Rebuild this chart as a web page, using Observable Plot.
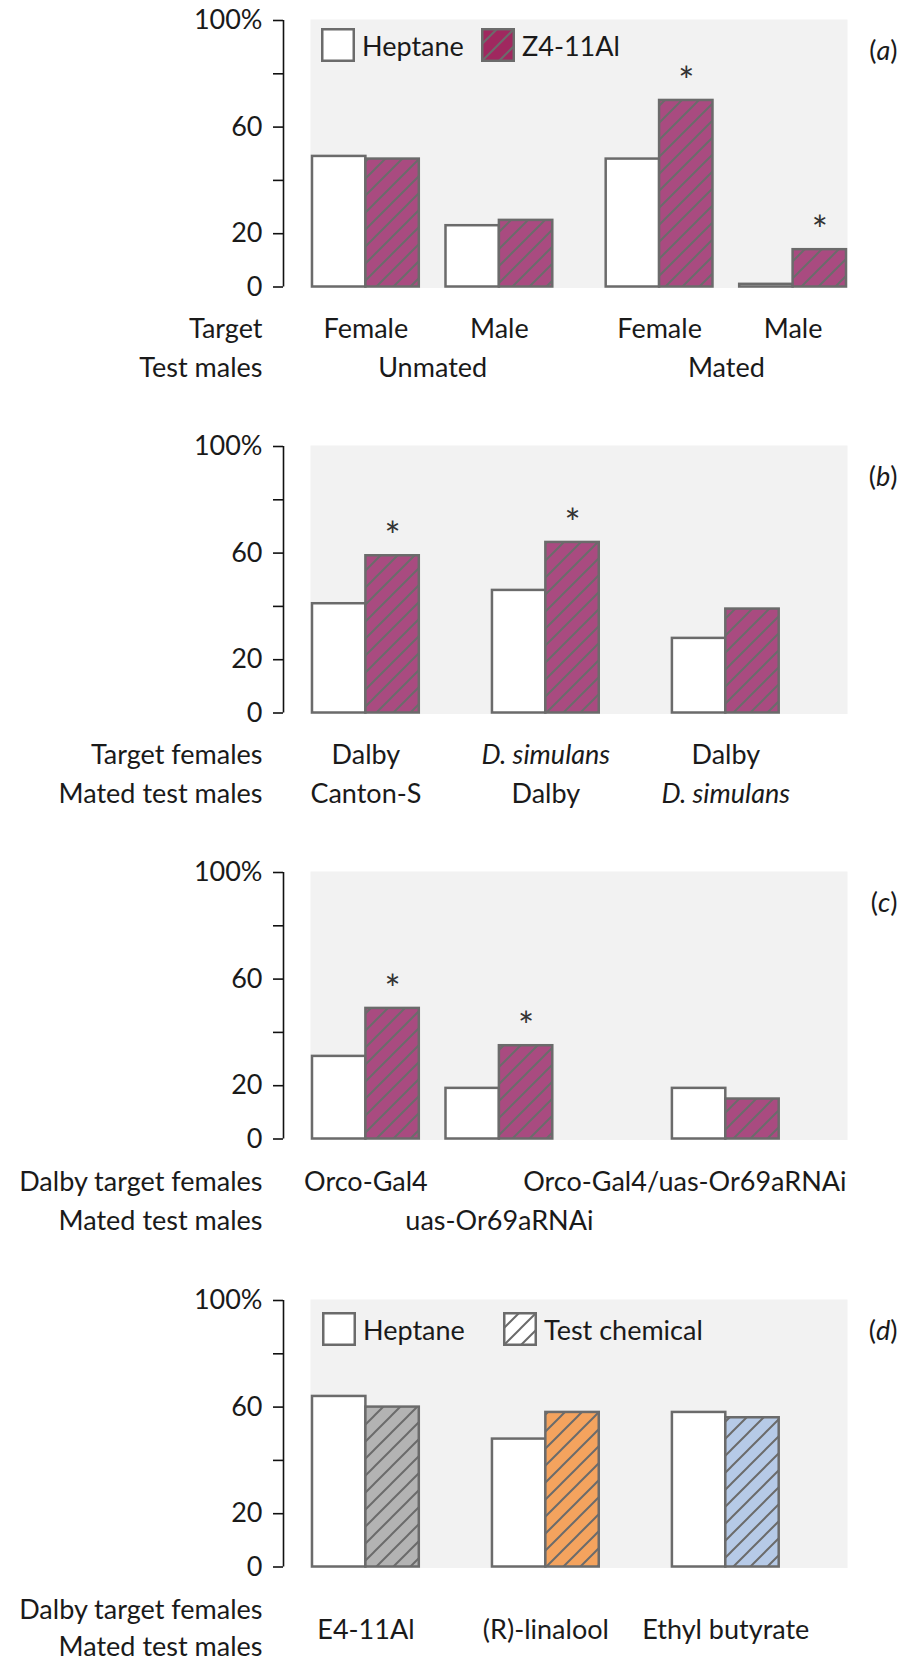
<!DOCTYPE html>
<html>
<head>
<meta charset="utf-8">
<script src="https://cdn.jsdelivr.net/npm/d3@7"></script>
<script src="https://cdn.jsdelivr.net/npm/@observablehq/plot@0.6"></script>
<style>
  body { margin: 0; background: #fff; font-family: Lato, sans-serif; }
  #root { position: relative; width: 899px; height: 1661px; overflow: hidden; }
  .panel { position: absolute; left: 0; width: 899px; }
  .panel svg { overflow: visible; }
  .legend-item { position: absolute; display: flex; align-items: center; font-family: Lato, sans-serif; font-size: 27px; color: #1a1a1a; white-space: nowrap; }
  .legend-item svg { margin-right: 7px; display: block; }
</style>
</head>
<body>
<svg width="0" height="0" style="position:absolute">
  <defs>
    <pattern id="hatch-z4" patternUnits="userSpaceOnUse" width="17" height="17">
      <rect width="17" height="17" fill="#a94b80"/>
      <path d="M0,17L17,0M-4,4L4,-4M13,21L21,13" stroke="#6b6b6b" stroke-width="2"/>
    </pattern>
    <pattern id="hatch-z4-key" patternUnits="userSpaceOnUse" width="17" height="17">
      <rect width="17" height="17" fill="#a0285f"/>
      <path d="M0,17L17,0M-4,4L4,-4M13,21L21,13" stroke="#6b6b6b" stroke-width="2"/>
    </pattern>
    <pattern id="hatch-gray" patternUnits="userSpaceOnUse" width="17" height="17">
      <rect width="17" height="17" fill="#b3b3b3"/>
      <path d="M0,17L17,0M-4,4L4,-4M13,21L21,13" stroke="#6b6b6b" stroke-width="2"/>
    </pattern>
    <pattern id="hatch-orange" patternUnits="userSpaceOnUse" width="17" height="17">
      <rect width="17" height="17" fill="#f4a35e"/>
      <path d="M0,17L17,0M-4,4L4,-4M13,21L21,13" stroke="#6b6b6b" stroke-width="2"/>
    </pattern>
    <pattern id="hatch-blue" patternUnits="userSpaceOnUse" width="17" height="17">
      <rect width="17" height="17" fill="#b6cae7"/>
      <path d="M0,17L17,0M-4,4L4,-4M13,21L21,13" stroke="#6b6b6b" stroke-width="2"/>
    </pattern>
    <pattern id="hatch-white" patternUnits="userSpaceOnUse" width="17" height="17">
      <rect width="17" height="17" fill="#ffffff"/>
      <path d="M0,17L17,0M-4,4L4,-4M13,21L21,13" stroke="#6b6b6b" stroke-width="2"/>
    </pattern>
  </defs>
</svg>
<div id="root"></div>
<script>
// ---------------- Data ----------------
// Y axis ticks (percent of males)
const yTicks = [0, 20, 40, 60, 80, 100];
const yTickLabels = ["0", "20", "", "60", "", "100%"];

// Panel (a)
const aTarget = ["Female", "Male", "Female", "Male"];
const aTestMales = ["Unmated", "Unmated", "Mated", "Mated"];
const aHeptane = [49, 23, 48, 1];
const aZ4 = [48, 25, 70, 14];
const aSignificant = [false, false, true, true];
const aSeries = ["Heptane", "Z4-11Al"];

// Panel (b)
const bTargetFemales = ["Dalby", "D. simulans", "Dalby"];
const bMatedTestMales = ["Canton-S", "Dalby", "D. simulans"];
const bHeptane = [41, 46, 28];
const bZ4 = [59, 64, 39];
const bSignificant = [true, true, false];

// Panel (c)
const cTargetFemales = ["Orco-Gal4", "", "Orco-Gal4/uas-Or69aRNAi"];
const cMatedTestMales = ["", "uas-Or69aRNAi", ""];
const cHeptane = [31, 19, 19];
const cZ4 = [49, 35, 15];
const cSignificant = [true, true, false];

// Panel (d)
const dChemical = ["E4-11Al", "(R)-linalool", "Ethyl butyrate"];
const dHeptane = [64, 48, 58];
const dTest = [60, 58, 56];
const dSignificant = [false, false, false];
const dSeries = ["Heptane", "Test chemical"];

// ---------------- Styles / layout ----------------
const ITALIC = new Set(["D. simulans"]);
const STROKE = "#6b6b6b";
const TEXT = "#1a1a1a";
const FONT = "Lato, sans-serif";
const FS = 27;
const X_DOMAIN = [-0.543, 10.019];   // bar-width units; first bar starts at 0
const dFills = ["url(#hatch-gray)", "url(#hatch-orange)", "url(#hatch-blue)"];

const root = document.getElementById("root");

function italicizeLetter(svg) {
  d3.select(svg).selectAll("text").each(function () {
    const m = /^\(([a-d])\)$/.exec(this.textContent);
    if (m) {
      const t = d3.select(this);
      t.text("");
      t.append("tspan").text("(");
      t.append("tspan").attr("font-style", "italic").text(m[1]);
      t.append("tspan").text(")");
    }
  });
}

function addLegend(container, items) {
  items.forEach(it => {
    const div = document.createElement("div");
    div.className = "legend-item";
    div.style.left = it.left + "px";
    div.style.top = it.top + "px";
    div.innerHTML = `<svg width="34" height="34"><rect x="1.25" y="1.25" width="31.5" height="31.5" fill="${it.fill}" stroke="${STROKE}" stroke-width="2.5"/></svg><span>${it.label}</span>`;
    container.appendChild(div);
  });
}

function panel(cfg) {
  // group start positions (in bar widths)
  const starts = [];
  let s = 0;
  cfg.heptane.forEach((_, i) => { if (i > 0) s += 2 + cfg.gaps[i - 1]; starts.push(s); });
  const groups = cfg.heptane.map((h, i) => ({
    i, start: starts[i], center: starts[i] + 1, testCenter: starts[i] + 1.5,
    heptane: h, test: cfg.test[i], sig: cfg.sig[i],
    row1: cfg.row1 ? cfg.row1[i] : "", row2: cfg.row2 ? cfg.row2[i] : "",
    testFill: cfg.testFill[i]
  }));
  const bars = groups.flatMap(g => [
    {x1: g.start, x2: g.start + 1, v: g.heptane, fill: "white"},
    {x1: g.start + 1, x2: g.start + 2, v: g.test, fill: g.testFill}
  ]);
  const plotH = cfg.height;
  const marks = [
    Plot.frame({fill: "#f2f2f2", stroke: "none", insetLeft: 27, insetBottom: -1, insetTop: -1}),
    Plot.rectY(bars, {x1: "x1", x2: "x2", y1: 0, y2: "v", fill: "fill", stroke: STROKE, strokeWidth: 2.5}),
    Plot.ruleX([X_DOMAIN[0]], {y1: 0, y2: 100, stroke: "#111", strokeWidth: 1.6}),
    Plot.axisY({ticks: yTicks, tickFormat: d => yTickLabels[yTicks.indexOf(d)], tickSize: 10, tickPadding: 11,
      fontSize: FS, stroke: "#111", strokeWidth: 1.6, fill: TEXT}),
    Plot.text(groups.filter(g => g.sig), {x: "testCenter", y: "test", text: () => "*", dy: -18, fontSize: 38, fill: "#333"}),
    Plot.text([cfg.letter], {frameAnchor: "top-right", textAnchor: "end", dx: 50, dy: 20, fontSize: FS, fill: TEXT}),
    Plot.text([cfg.rowLabels[0]], {frameAnchor: "bottom-left", textAnchor: "end", dx: -21, dy: cfg.dy1, fontSize: FS, fill: TEXT}),
    Plot.text([cfg.rowLabels[1]], {frameAnchor: "bottom-left", textAnchor: "end", dx: -21, dy: cfg.dy2, fontSize: FS, fill: TEXT}),
    ...cfg.extraMarks(groups)
  ];
  const svg = Plot.plot({
    width: 899, height: plotH,
    marginTop: 20, marginBottom: plotH - 286.5, marginLeft: 283, marginRight: 52,
    x: {domain: X_DOMAIN, axis: null},
    y: {domain: [0, 100]},
    color: {type: "identity"},
    style: {fontFamily: FONT, fontSize: FS + "px", background: "transparent", color: TEXT},
    marks
  });
  italicizeLetter(svg);
  const div = document.createElement("div");
  div.className = "panel";
  div.style.top = cfg.top + "px";
  div.style.height = plotH + "px";
  div.appendChild(svg);
  if (cfg.legend) addLegend(div, cfg.legend);
  root.appendChild(div);
}

function rowText(groups, key, dy, italic) {
  const sel = groups.filter(g => g[key] && (italic ? ITALIC.has(g[key]) : !ITALIC.has(g[key])));
  return Plot.text(sel, {x: "center", frameAnchor: "bottom", dy, text: key, fontSize: FS, fill: TEXT,
    fontStyle: italic ? "italic" : "normal"});
}

// Panel (a)
panel({
  top: 0, height: 426, letter: "(a)",
  heptane: aHeptane, test: aZ4, sig: aSignificant,
  testFill: aZ4.map(() => "url(#hatch-z4)"),
  gaps: [0.5, 1.0, 0.5],
  row1: aTarget, row2: aTestMales,
  rowLabels: ["Target", "Test males"], dy1: 51, dy2: 90,
  extraMarks: groups => {
    const blocks = d3.groups(groups, g => g.row2).map(([k, gs]) => ({label: k, x: d3.mean(gs, g => g.center)}));
    return [
      rowText(groups, "row1", 51, false),
      Plot.text(blocks, {x: "x", text: "label", frameAnchor: "bottom", dy: 90, fontSize: FS, fill: TEXT})
    ];
  },
  legend: [
    {label: aSeries[0], fill: "white", left: 321, top: 28},
    {label: aSeries[1], fill: "url(#hatch-z4-key)", left: 481, top: 28}
  ]
});

// Panel (b)
panel({
  top: 426, height: 426, letter: "(b)",
  heptane: bHeptane, test: bZ4, sig: bSignificant,
  testFill: bZ4.map(() => "url(#hatch-z4)"),
  gaps: [1.37, 1.37],
  row1: bTargetFemales, row2: bMatedTestMales,
  rowLabels: ["Target females", "Mated test males"], dy1: 51, dy2: 90,
  extraMarks: groups => [
    rowText(groups, "row1", 51, false), rowText(groups, "row1", 51, true),
    rowText(groups, "row2", 90, false), rowText(groups, "row2", 90, true)
  ]
});

// Panel (c)
panel({
  top: 852, height: 428, letter: "(c)",
  heptane: cHeptane, test: cZ4, sig: cSignificant,
  testFill: cZ4.map(() => "url(#hatch-z4)"),
  gaps: [0.5, 2.24],
  row1: cTargetFemales, row2: cMatedTestMales,
  rowLabels: ["Dalby target females", "Mated test males"], dy1: 52, dy2: 91,
  extraMarks: groups => [
    rowText(groups.slice(0, 2), "row1", 52, false),
    Plot.text(groups.slice(2), {frameAnchor: "bottom-right", textAnchor: "end", dx: -1, dy: 52, text: "row1", fontSize: FS, fill: TEXT}),
    rowText(groups, "row2", 91, false)
  ]
});

// Panel (d)
panel({
  top: 1280, height: 381, letter: "(d)",
  heptane: dHeptane, test: dTest, sig: dSignificant,
  testFill: dFills,
  gaps: [1.37, 1.37],
  row1: dChemical,
  rowLabels: ["Dalby target females", "Mated test males"], dy1: 52, dy2: 89,
  extraMarks: groups => [rowText(groups, "row1", 72, false)],
  legend: [
    {label: dSeries[0], fill: "white", left: 322, top: 32},
    {label: dSeries[1], fill: "url(#hatch-white)", left: 503, top: 32}
  ]
});
</script>
</body>
</html>
